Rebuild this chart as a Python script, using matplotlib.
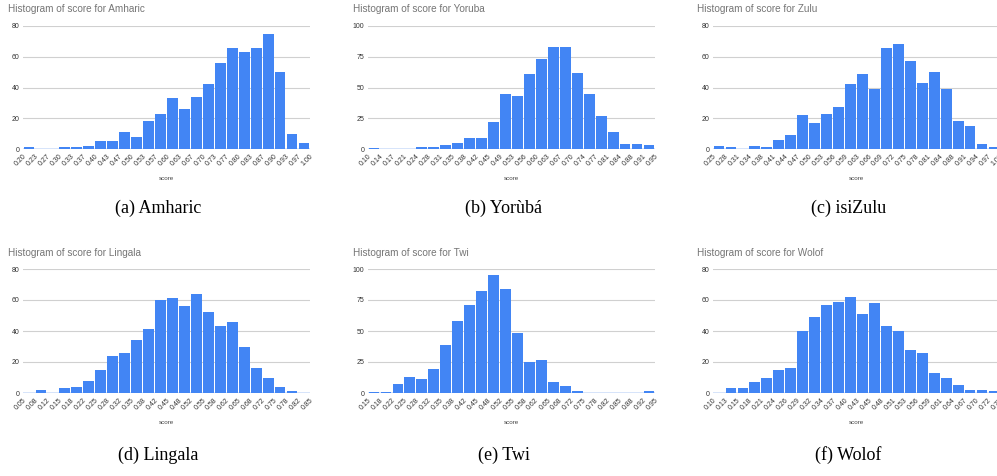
import matplotlib
matplotlib.use("Agg")
import matplotlib.pyplot as plt
import numpy as np

W, H = 997, 476
BLUE = "#4285F4"

# bin edge labels and counts per language
amharic_edges = ["0.20", "0.23", "0.27", "0.30", "0.33", "0.37", "0.40", "0.43", "0.47",
                 "0.50", "0.53", "0.57", "0.60", "0.63", "0.67", "0.70", "0.73", "0.77",
                 "0.80", "0.83", "0.87", "0.90", "0.93", "0.97", "1.00"]
amharic_counts = [1, 0, 0, 1, 1, 2, 5, 5, 11, 8, 18, 23, 33, 26, 34, 42, 56, 66, 63, 66,
                  75, 50, 10, 4]

yoruba_edges = ["0.10", "0.14", "0.17", "0.21", "0.24", "0.28", "0.31", "0.35", "0.38",
                "0.42", "0.45", "0.49", "0.53", "0.56", "0.60", "0.63", "0.67", "0.70",
                "0.74", "0.77", "0.81", "0.84", "0.88", "0.91", "0.95"]
yoruba_counts = [1, 0, 0, 0, 2, 2, 3, 5, 9, 9, 22, 45, 43, 61, 73, 83, 83, 62, 45, 27,
                 14, 4, 4, 3]

zulu_edges = ["0.25", "0.28", "0.31", "0.34", "0.38", "0.41", "0.44", "0.47", "0.50",
              "0.53", "0.56", "0.59", "0.63", "0.66", "0.69", "0.72", "0.75", "0.78",
              "0.81", "0.84", "0.88", "0.91", "0.94", "0.97", "1.00"]
zulu_counts = [2, 1, 0, 2, 1, 6, 9, 22, 17, 23, 27, 42, 49, 39, 66, 68, 57, 43, 50, 39,
               18, 15, 3, 1]

lingala_edges = ["0.05", "0.08", "0.12", "0.15", "0.18", "0.22", "0.25", "0.28", "0.32",
                 "0.35", "0.38", "0.42", "0.45", "0.48", "0.52", "0.55", "0.58", "0.62",
                 "0.65", "0.68", "0.72", "0.75", "0.78", "0.82", "0.85"]
lingala_counts = [0, 2, 0, 3, 4, 8, 15, 24, 26, 34, 41, 60, 61, 56, 64, 52, 43, 46, 30,
                  16, 10, 4, 1, 0]

twi_edges = ["0.15", "0.18", "0.22", "0.25", "0.28", "0.32", "0.35", "0.38", "0.42",
             "0.45", "0.48", "0.52", "0.55", "0.58", "0.62", "0.65", "0.68", "0.72",
             "0.75", "0.78", "0.82", "0.85", "0.88", "0.92", "0.95"]
twi_counts = [1, 1, 7, 13, 11, 19, 39, 58, 71, 82, 95, 84, 48, 25, 27, 9, 6, 2, 0, 0, 0,
              0, 0, 2]

wolof_edges = ["0.10", "0.13", "0.15", "0.18", "0.21", "0.24", "0.26", "0.29", "0.32",
               "0.34", "0.37", "0.40", "0.43", "0.45", "0.48", "0.51", "0.53", "0.56",
               "0.59", "0.61", "0.64", "0.67", "0.70", "0.72", "0.75"]
wolof_counts = [0, 3, 3, 7, 10, 15, 16, 40, 49, 57, 59, 62, 51, 58, 43, 40, 28, 26, 13,
                10, 5, 2, 2, 1]

panels = [
    ("Amharic", "(a) Amharic", amharic_edges, amharic_counts, 80, 20),
    ("Yoruba", "(b) Yorùbá", yoruba_edges, yoruba_counts, 100, 25),
    ("Zulu", "(c) isiZulu", zulu_edges, zulu_counts, 80, 20),
    ("Lingala", "(d) Lingala", lingala_edges, lingala_counts, 80, 20),
    ("Twi", "(e) Twi", twi_edges, twi_counts, 100, 25),
    ("Wolof", "(f) Wolof", wolof_edges, wolof_counts, 80, 20),
]

col_left = [23, 368, 713]
col_title = [8, 353, 697]
ax_w = 287
rows = [  # axes top, axes bottom, title y, xlabel y, caption y
    (26, 149, 9, 178, 208),
    (269, 393, 253, 422, 455),
]

fig = plt.figure(figsize=(W / 100, H / 100), dpi=100)
sans = ["Liberation Sans", "DejaVu Sans"]


def fx(px):
    return px / W


def fy(py):
    return 1 - py / H


for i, (name, caption, edges, counts, ymax, ystep) in enumerate(panels):
    r, c = divmod(i, 3)
    top, bot, ty, ly, cy = rows[r]
    left = col_left[c]
    ax = fig.add_axes([fx(left), fy(bot), ax_w / W, (bot - top) / H])

    n = len(counts)
    ax.bar(np.arange(n) + 0.5, counts, width=0.9, color=BLUE, zorder=3)
    ax.axhline(0, color=BLUE, lw=1.0, zorder=2)

    ax.set_xlim(0, n)
    ax.set_ylim(0, ymax)
    ax.set_yticks(np.arange(0, ymax + 1, ystep))
    ax.set_yticklabels([str(v) for v in np.arange(0, ymax + 1, ystep)],
                       fontsize=5, color="#333333", family=sans)
    ax.set_xticks(np.arange(n + 1))
    ax.set_xticklabels(edges, rotation=45, ha="right", rotation_mode="anchor",
                       fontsize=5, color="#333333", family=sans)
    ax.tick_params(length=0, pad=2.5)
    ax.grid(axis="y", color="#d0d0d0", lw=0.8, zorder=0)
    for s in ax.spines.values():
        s.set_visible(False)

    fig.text(fx(left + ax_w / 2), fy(ly), "score", ha="center", va="center",
             fontsize=4.5, color="#444444", family=sans)
    fig.text(fx(col_title[c]), fy(ty), f"Histogram of score for {name}",
             ha="left", va="center", fontsize=7.2, color="#757575", family=sans)
    fig.text(fx(left + ax_w / 2 - 8), fy(cy), caption, ha="center", va="center",
             fontsize=13, color="black", family=["Liberation Serif", "DejaVu Serif"])

fig.savefig("out.png", dpi=100)
